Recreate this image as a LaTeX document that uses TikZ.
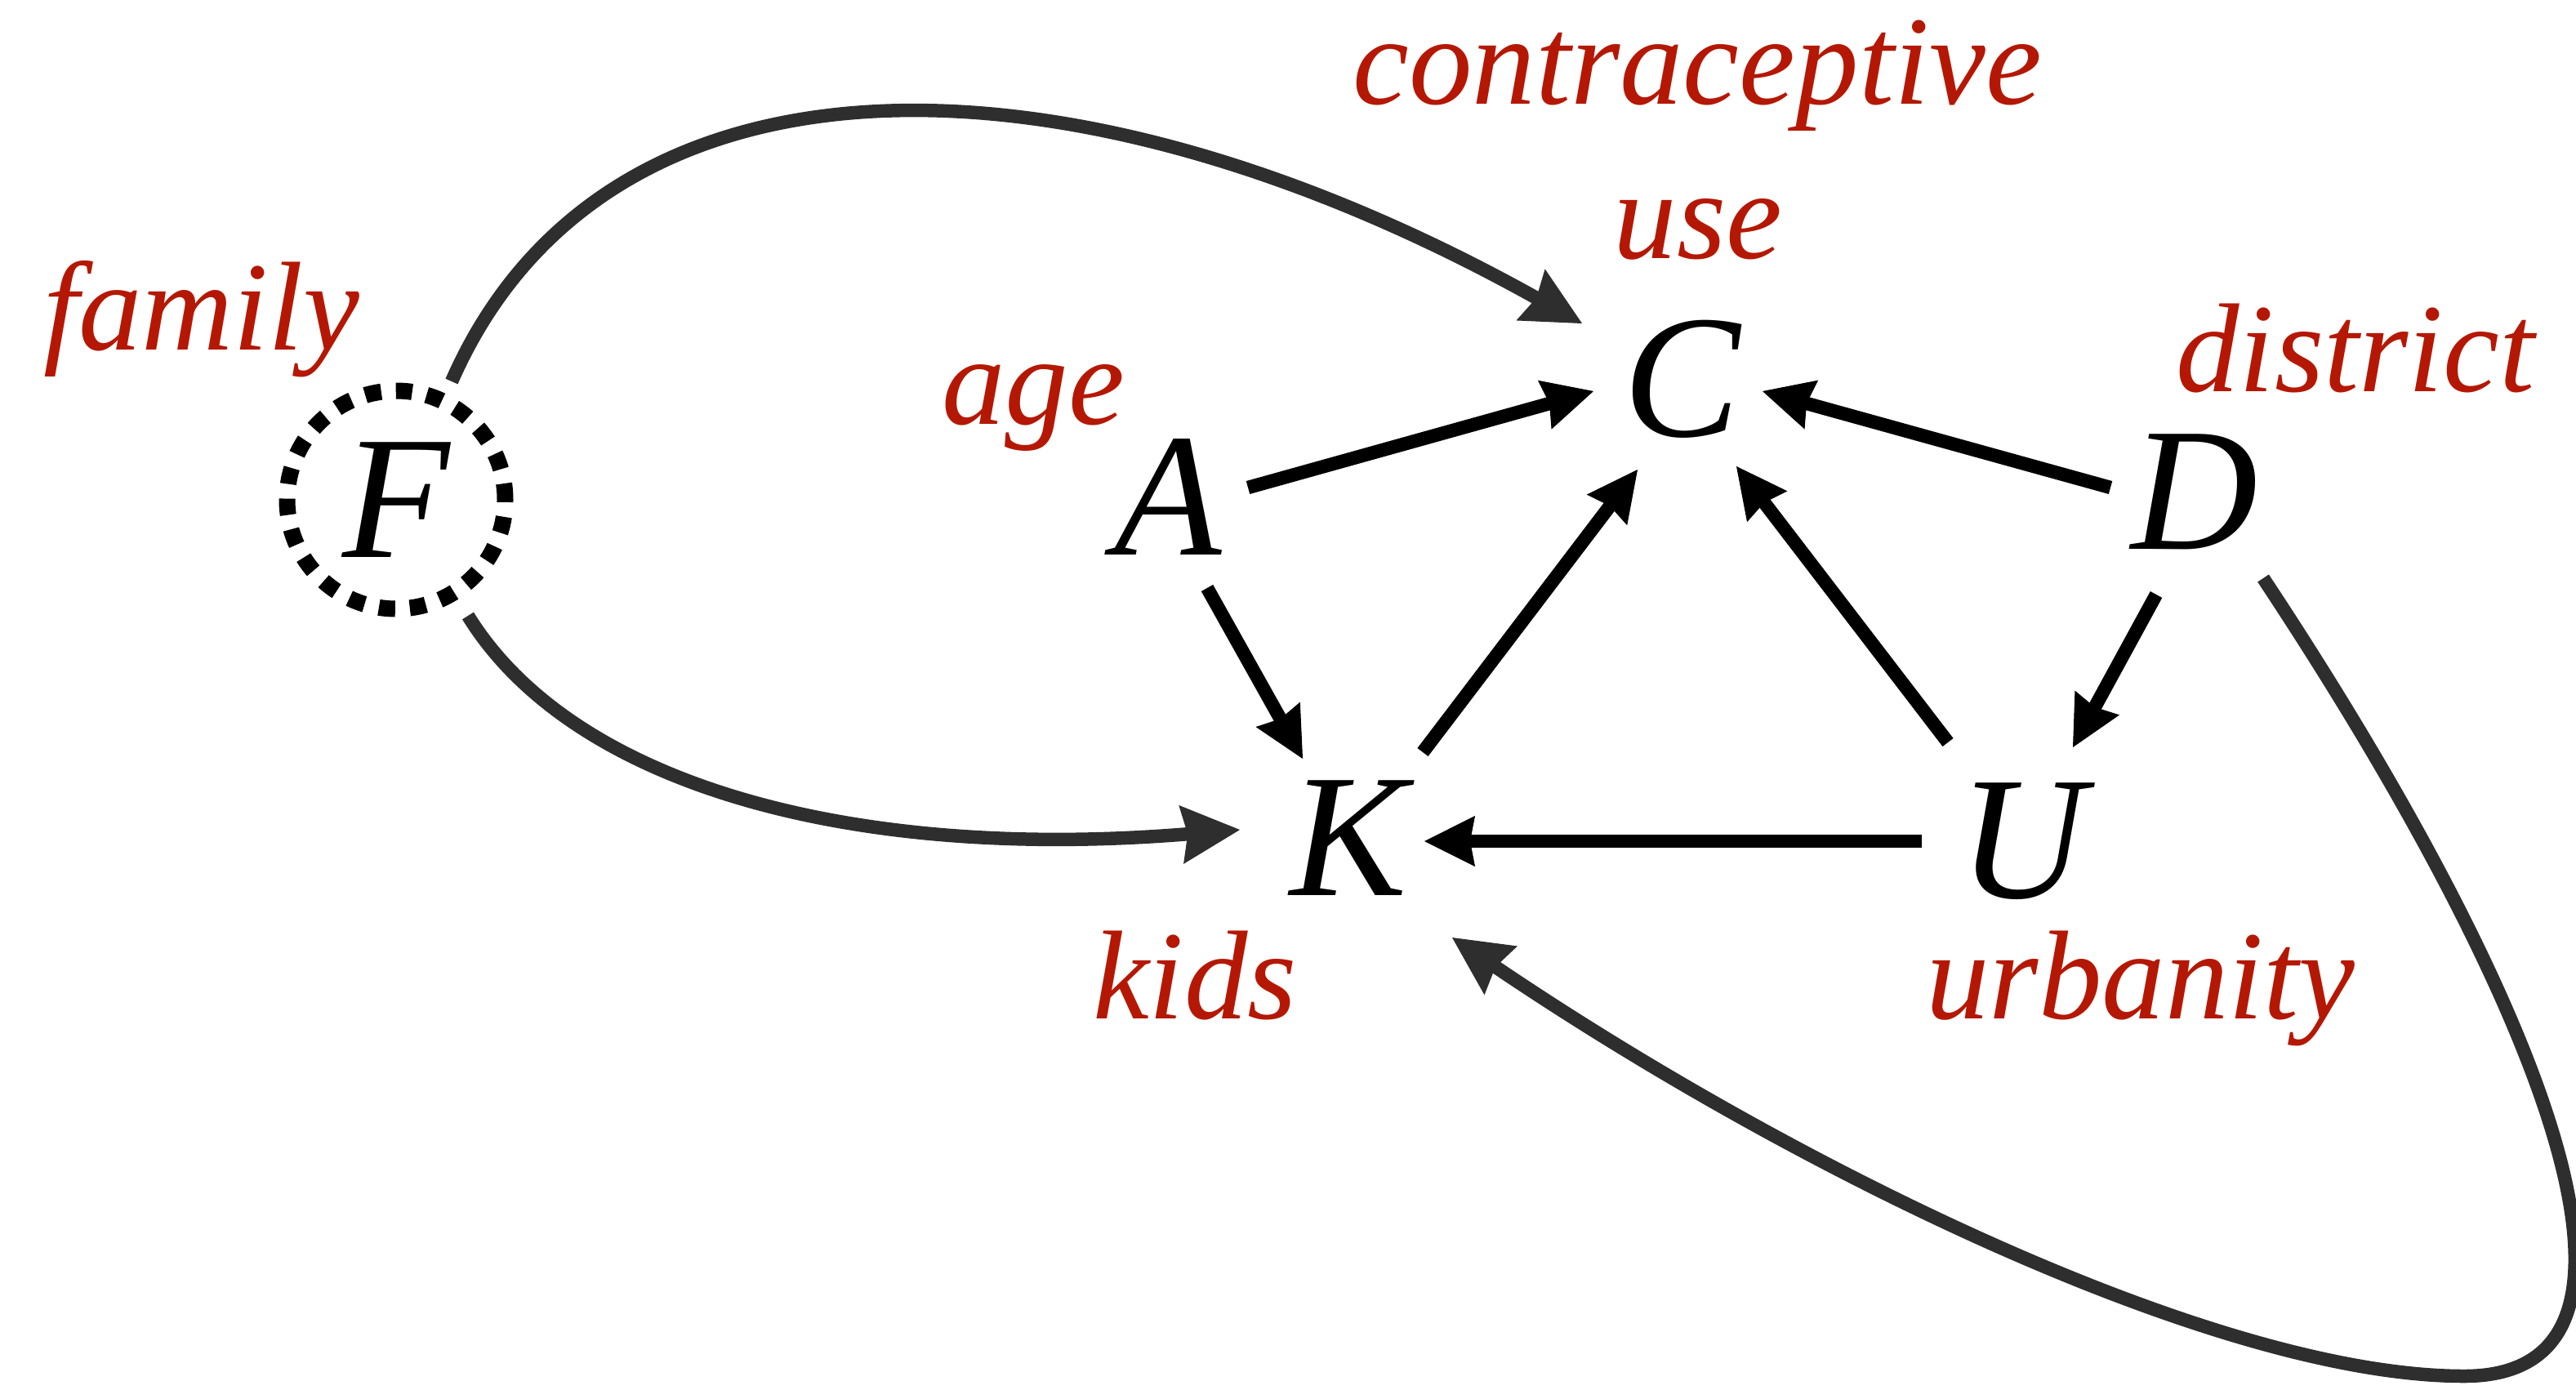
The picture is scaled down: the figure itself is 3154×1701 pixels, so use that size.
\documentclass[tikz,border=0pt]{standalone}
\usepackage{fontspec}
\setmainfont{Liberation Serif}
\usetikzlibrary{arrows.meta,calc}
\definecolor{labred}{RGB}{180,24,4}
\definecolor{linkgray}{RGB}{46,46,46}
\begin{document}
\begin{tikzpicture}[x=1pt,y=1pt,
  var/.style={font=\fontsize{215}{220}\selectfont\itshape, inner sep=0pt},
  lab/.style={font=\fontsize{155}{160}\selectfont\itshape, text=labred, anchor=base, inner sep=0pt},
  arr/.style={line width=16.5pt, -{Stealth[length=62pt,width=62pt,inset=6pt,line width=1pt]}},
  carr/.style={line width=16.5pt, draw=linkgray, -{Stealth[length=72pt,width=72pt,inset=8pt,line width=1pt]}},
]
\useasboundingbox (0,0) rectangle (3154,-1701);

% variables
\node[var] (A) at (1430,-609) {A};
\node[var] (C) at (2059,-464) {C};
\node[var] (D) at (2687,-602) {D};
\node[var] (K) at (1651,-1026) {K};
\node[var] (U) at (2476,-1030) {U};
\node[var, circle, draw, minimum size=267pt, line width=20pt,
      dash pattern=on 20pt off 18pt] (F) at (485,-612) {F};

% labels
\node[lab] (famlab) at (247,-428) {family};
\node[lab] (agelab) at (1265,-519) {age};
\node[lab] (conlab) at (2078,-127) {contraceptive};
\node[lab] (uselab) at (2079,-316) {use};
\node[lab] (dislab) at (2884,-479) {district};
\node[lab] (kidlab) at (1463,-1247) {kids};
\node[lab] (urblab) at (2621,-1247) {urbanity};

% direct effects
\draw[arr] ($(A)+(98,12)$) -- ($(C)+(-108,-15)$);
\draw[arr] ($(A)+(48,-111)$) -- ($(K)+(-56,97)$);
\draw[arr] ($(K)+(91,105)$) -- ($(C)+(-54,-111)$);
\draw[arr] ($(U)+(-91,121)$) -- ($(C)+(67,-107)$);
\draw[arr] ($(D)+(-103,5)$) -- ($(C)+(99,-15)$);
\draw[arr] ($(D)+(-47,-126)$) -- ($(U)+(62,115)$);
\draw[arr] ($(U)+(-123,0)$) -- ($(K)+(93,-4)$);

% curved paths
\draw[carr] ($(F)+(68,145)$) .. controls (740,-40) and (1309,-46) .. ($(C)+(-122,68)$);
\draw[carr] ($(F)+(88,-142)$) .. controls (700,-960) and (1040,-1055) .. ($(K)+(-133,10)$);
\coordinate (loop) at (3017,-1685);
\draw[carr] ($(D)+(84,-106)$) .. controls (3103,-1209) and (3300,-1685) .. (loop)
  .. controls (2715,-1685) and (2195,-1430) .. ($(K)+(127,-122)$);
\end{tikzpicture}
\end{document}
